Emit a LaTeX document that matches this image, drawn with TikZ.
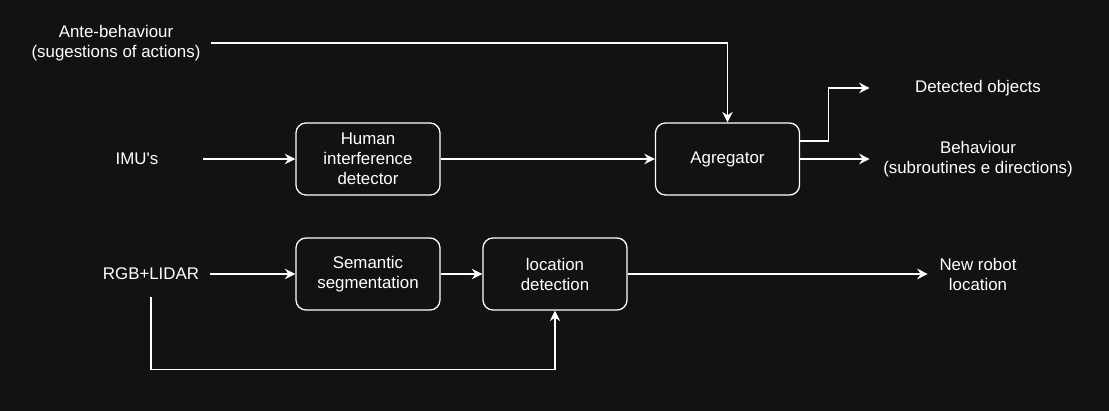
\documentclass[tikz,border=0pt]{standalone}
\usepackage{fontspec}
\setmainfont{Liberation Sans}
\usepackage{tikz}
\usepackage{xcolor}
\usetikzlibrary{arrows.meta}
\definecolor{bgdark}{HTML}{121212}

\begin{document}
\begin{tikzpicture}[x=0.025cm, y=-0.025cm,
    font=\fontsize{12}{14.2}\selectfont,
    every node/.style={text=white},
    box/.style={rectangle, draw=white, line width=0.9pt, fill=bgdark, rounded corners=0.25cm, minimum width=3.6cm, minimum height=1.8cm, align=center, inner sep=0pt},
    txt/.style={align=center, inner sep=0pt},
    wire/.style={draw=white, line width=0.9pt, -{Stealth[length=7.5pt, width=7.5pt, inset=2.5pt]}}]

    % Background
    \fill[bgdark] (0,0) rectangle (1109,411);
    \useasboundingbox (0,0) rectangle (1109,411);

    % Inputs
    \node[txt, minimum width=4.75cm] (ante) at (116,43) {Ante-behaviour\\(sugestions of actions)};
    \node[txt, minimum width=3.3cm] (imu) at (137,159) {IMU\textquotesingle s};
    \node[txt, minimum width=2.95cm, minimum height=1.15cm] (rgb) at (151,274) {RGB+LIDAR};

    % Blocks
    \node[box] (human) at (368,159) {Human\\interference\\detector};
    \node[box] (agg) at (727.5,159) {Agregator};
    \node[box] (sem) at (368,274) {Semantic\\segmentation};
    \node[box] (loc) at (555,274) {location\\detection};

    % Outputs
    \node[txt, minimum width=5.4cm] (det) at (978,88) {Detected objects};
    \node[txt, minimum width=5.4cm] (beh) at (978,159) {Behaviour\\(subroutines e directions)};
    \node[txt, minimum width=2.5cm] (newloc) at (978,274) {New robot\\location};

    % Arrows
    \draw[wire] (ante.east) -| (agg.north);
    \draw[wire] (imu.east) -- (human.west);
    \draw[wire] (human.east) -- (agg.west);
    \draw[wire] ([yshift=0.45cm]agg.east) -- ++(28,0) |- (det.west);
    \draw[wire] (agg.east) -- (beh.west);
    \draw[wire] (rgb.east) -- (sem.west);
    \draw[wire] (sem.east) -- (loc.west);
    \draw[wire] (loc.east) -- (newloc.west);
    \draw[wire] (rgb.south) -- ++(0,72) -| (loc.south);
\end{tikzpicture}
\end{document}
